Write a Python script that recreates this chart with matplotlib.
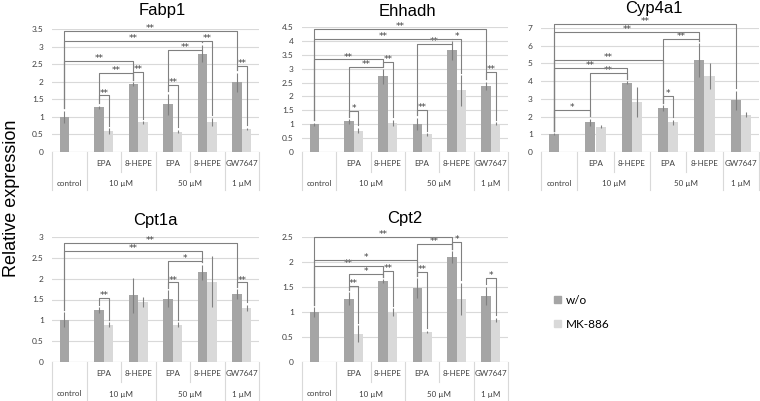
import matplotlib.pyplot as plt
import matplotlib.patches as mpatches
import numpy as np

W, H = 760, 401

categories = ['control', 'EPA', '8-HEPE', 'EPA', '8-HEPE', 'GW7647']
group_labels = ['control', '10 µM', '50 µM', '1 µM']
group_pos = [0, 1.5, 3.5, 5]
series = ['w/o', 'MK-886']

# values (mean, error), control has no MK-886 bar
fabp1_wo = [1.0, 1.27, 1.93, 1.36, 2.8, 1.98]
fabp1_wo_err = [0.17, 0.05, 0.05, 0.3, 0.25, 0.27]
fabp1_mk = [np.nan, 0.6, 0.84, 0.58, 0.85, 0.66]
fabp1_mk_err = [0, 0.08, 0.03, 0.05, 0.12, 0.03]

ehhadh_wo = [1.0, 1.1, 2.72, 1.02, 3.66, 2.37]
ehhadh_wo_err = [0.05, 0.08, 0.27, 0.22, 0.35, 0.15]
ehhadh_mk = [np.nan, 0.77, 1.04, 0.63, 2.22, 1.02]
ehhadh_mk_err = [0, 0.1, 0.12, 0.04, 0.55, 0.05]

cyp4a1_wo = [1.0, 1.67, 3.92, 2.48, 5.2, 2.92]
cyp4a1_wo_err = [0.05, 0.2, 0.08, 0.15, 0.95, 0.55]
cyp4a1_mk = [np.nan, 1.42, 2.8, 1.67, 4.3, 2.1]
cyp4a1_mk_err = [0, 0.08, 0.85, 0.15, 0.75, 0.15]

cpt1a_wo = [1.01, 1.24, 1.6, 1.52, 2.15, 1.63]
cpt1a_wo_err = [0.18, 0.07, 0.42, 0.2, 0.18, 0.12]
cpt1a_mk = [np.nan, 0.9, 1.44, 0.9, 1.93, 1.3]
cpt1a_mk_err = [0, 0.05, 0.13, 0.05, 0.62, 0.07]

cpt2_wo = [1.0, 1.27, 1.62, 1.48, 2.1, 1.33]
cpt2_wo_err = [0.1, 0.13, 0.04, 0.2, 0.12, 0.18]
cpt2_mk = [np.nan, 0.57, 1.0, 0.61, 1.27, 0.85]
cpt2_mk_err = [0, 0.17, 0.08, 0.02, 0.32, 0.04]

# significance brackets: (cat a, series a, cat b, series b, level, label)
fabp1_sig = [(0, 0, 5, 0, 3.45, '**'), (0, 0, 4, 0, 3.15, '**'), (0, 0, 2, 0, 2.58, '**'),
             (1, 0, 2, 0, 2.24, '**'), (1, 0, 1, 1, 1.61, '**'), (2, 0, 2, 1, 2.27, '**'),
             (3, 0, 4, 0, 2.9, '**'), (3, 0, 3, 1, 1.92, '**'), (4, 0, 4, 1, 3.15, '**'),
             (5, 0, 5, 1, 2.45, '**')]
ehhadh_sig = [(0, 0, 5, 0, 4.43, '**'), (0, 0, 4, 0, 4.07, '**'), (0, 0, 2, 0, 3.33, '**'),
              (1, 0, 2, 0, 3.05, '**'), (2, 0, 2, 1, 3.23, '**'), (1, 0, 1, 1, 1.49, '*'),
              (3, 0, 4, 0, 3.89, '**'), (4, 0, 4, 1, 4.08, '*'), (3, 0, 3, 1, 1.52, '**'),
              (5, 0, 5, 1, 2.88, '**')]
cyp4a1_sig = [(0, 0, 5, 0, 7.25, '**'), (0, 0, 4, 0, 6.78, '**'), (3, 0, 4, 0, 6.38, '**'),
              (0, 0, 3, 0, 5.22, '**'), (0, 0, 2, 0, 4.75, '**'), (1, 0, 2, 0, 4.46, '**'),
              (0, 0, 1, 0, 2.39, '*'), (3, 0, 3, 1, 3.14, '*')]
cpt1a_sig = [(0, 0, 5, 0, 2.86, '**'), (0, 0, 4, 0, 2.67, '**'), (3, 0, 4, 0, 2.43, '*'),
             (3, 0, 3, 1, 1.91, '**'), (1, 0, 1, 1, 1.54, '**'), (5, 0, 5, 1, 1.91, '**')]
cpt2_sig = [(0, 0, 4, 0, 2.5, '**'), (3, 0, 4, 0, 2.36, '**'), (4, 0, 4, 1, 2.4, '*'),
            (0, 0, 3, 0, 2.05, '*'), (0, 0, 2, 0, 1.93, '**'), (1, 0, 2, 0, 1.77, '*'),
            (2, 0, 2, 1, 1.83, '**'), (1, 0, 1, 1, 1.53, '**'), (3, 0, 3, 1, 1.8, '**'),
            (5, 0, 5, 1, 1.68, '*')]

c_wo = '#a5a5a5'
c_mk = '#d9d9d9'
c_line = '#808080'
c_grid = '#d9d9d9'
small = ['Lato', 'DejaVu Sans']
big = ['Liberation Sans', 'DejaVu Sans']

fig = plt.figure(figsize=(W / 100, H / 100), dpi=100)


def px_rect(x0, y0, x1, y1):
    return [x0 / W, 1 - y1 / H, (x1 - x0) / W, (y1 - y0) / H]


def panel(box, title, title_x, title_y, ymax, step, wo, wo_err, mk, mk_err, sig):
    ax = fig.add_axes(px_rect(*box))
    h_px = box[3] - box[1]
    x = np.arange(len(categories))
    bw = 0.28
    ax.bar(x - bw / 2, wo, bw, color=c_wo, zorder=2)
    ax.bar(x + bw / 2, mk, bw, color=c_mk, zorder=2)
    ax.errorbar(x - bw / 2, wo, yerr=wo_err, fmt='none', ecolor=c_line, elinewidth=0.8, capsize=0, zorder=3)
    m = ~np.isnan(np.array(mk, dtype=float))
    ax.errorbar((x + bw / 2)[m], np.array(mk)[m], yerr=np.array(mk_err)[m], fmt='none',
                ecolor=c_line, elinewidth=0.8, capsize=0, zorder=3)

    ax.set_xlim(-0.5, len(categories) - 0.5)
    ax.set_ylim(0, ymax)
    ticks = np.arange(0, ymax + step / 2, step)
    ax.set_yticks(ticks)
    ax.set_yticklabels([f'{t:g}' for t in ticks], fontsize=6, family=small, color='#404040')
    ax.set_xticks([])
    ax.tick_params(axis='y', length=0, pad=6)
    for s in ax.spines.values():
        s.set_visible(False)
    ax.grid(axis='y', color=c_grid, lw=0.8, zorder=0)
    ax.axhline(0, color='#bfbfbf', lw=0.8, zorder=1)

    # category table below the axis
    tr = ax.get_xaxis_transform()
    r1 = -12 / h_px
    r2 = -32 / h_px
    for i, lab in enumerate(categories):
        if i > 0:
            ax.text(i, r1, lab, transform=tr, ha='center', va='center', fontsize=5.8,
                    family=small, color='#404040')
    for lab, p in zip(group_labels, group_pos):
        ax.text(p, r2, lab, transform=tr, ha='center', va='center', fontsize=5.8,
                family=small, color='#404040')
    for b in [-0.5, 0.5, 2.5, 4.5, 5.5]:
        ax.plot([b, b], [0, -38 / h_px], transform=tr, color=c_grid, lw=0.8, clip_on=False)
    for b in [1.5, 3.5]:
        ax.plot([b, b], [0, -20 / h_px], transform=tr, color=c_grid, lw=0.8, clip_on=False)

    # significance brackets
    gap = 0.02 * ymax
    for ca, sa, cb, sb, lev, lab in sig:
        xa = ca + (bw / 2 if sa else -bw / 2)
        xb = cb + (bw / 2 if sb else -bw / 2)
        ya = (mk[ca] + mk_err[ca]) if sa else (wo[ca] + wo_err[ca])
        yb = (mk[cb] + mk_err[cb]) if sb else (wo[cb] + wo_err[cb])
        ya = min(ya + gap, lev)
        yb = min(yb + gap, lev)
        ax.plot([xa, xa, xb, xb], [ya, lev, lev, yb], color=c_line, lw=0.8, clip_on=False, zorder=4)
        ax.annotate(lab, ((xa + xb) / 2, lev), xytext=(0, -1.5), textcoords='offset points',
                    ha='center', va='bottom', fontsize=6.5, color='#404040', annotation_clip=False)

    fig.text(title_x / W, 1 - title_y / H, title, ha='center', va='center', fontsize=12, family=big)
    return ax


panel((52, 29, 259, 152), 'Fabp1', 162, 11, 3.5, 0.5, fabp1_wo, fabp1_wo_err, fabp1_mk, fabp1_mk_err, fabp1_sig)
panel((302, 27, 508, 152), 'Ehhadh', 407, 11, 4.5, 0.5, ehhadh_wo, ehhadh_wo_err, ehhadh_mk, ehhadh_mk_err, ehhadh_sig)
panel((541, 28, 759, 152), 'Cyp4a1', 654, 9, 7, 1, cyp4a1_wo, cyp4a1_wo_err, cyp4a1_mk, cyp4a1_mk_err, cyp4a1_sig)
panel((52, 237, 259, 362), 'Cpt1a', 155, 220, 3, 0.5, cpt1a_wo, cpt1a_wo_err, cpt1a_mk, cpt1a_mk_err, cpt1a_sig)
panel((302, 237, 508, 362), 'Cpt2', 405, 218, 2.5, 0.5, cpt2_wo, cpt2_wo_err, cpt2_mk, cpt2_mk_err, cpt2_sig)

fig.text(12 / W, 1 - 198 / H, 'Relative expression', rotation=90, ha='center', va='center',
         fontsize=13, family=big)

handles = [mpatches.Patch(color=c_wo, label=series[0]), mpatches.Patch(color=c_mk, label=series[1])]
fig.legend(handles=handles, loc='upper left', bbox_to_anchor=(548 / W, 1 - 289 / H), frameon=False,
           handlelength=0.6, handleheight=0.6, handletextpad=0.4, labelspacing=1.1,
           borderpad=0, prop={'family': small, 'size': 8.5})

fig.savefig('out.png', dpi=100)
